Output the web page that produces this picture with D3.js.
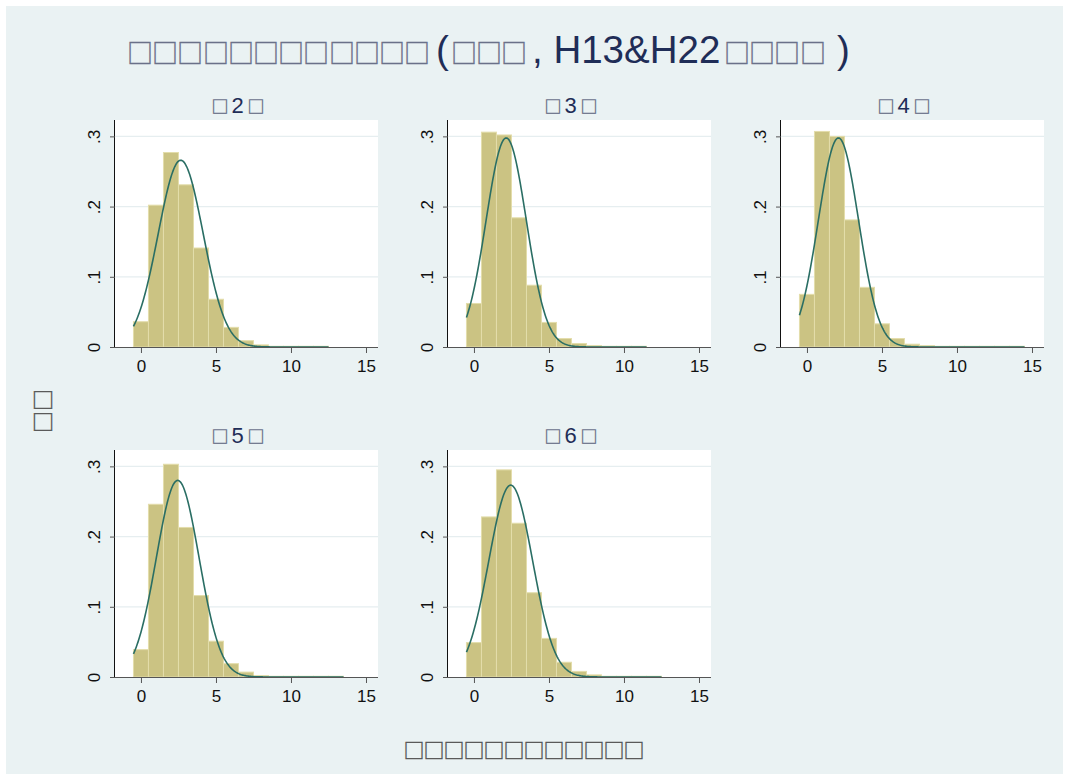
<!DOCTYPE html>
<html>
<head>
<meta charset="utf-8">
<script src="https://cdn.jsdelivr.net/npm/d3@7"></script>
<style>
  body { margin: 0; background: #ffffff; }
  svg text { font-family: "Liberation Sans", Arial, sans-serif; }
  .box { font-family: "Noto Sans CJK JP", sans-serif; }
</style>
</head>
<body>
<div id="chart"></div>
<script>
// panel labels (wave number), bin densities from 0 upward, normal fit
var waves = ["2", "3", "4", "5", "6"];
var dens2 = [0.036, 0.202, 0.277, 0.231, 0.141, 0.068, 0.028, 0.009, 0.003, 0.001, 0.001, 0.001, 0.001];
var dens3 = [0.062, 0.306, 0.302, 0.184, 0.088, 0.035, 0.012, 0.005, 0.002, 0.001, 0.001, 0.001];
var dens4 = [0.075, 0.307, 0.300, 0.181, 0.085, 0.033, 0.012, 0.004, 0.002, 0.001, 0.001, 0.001, 0.001, 0.001, 0.001];
var dens5 = [0.039, 0.246, 0.303, 0.213, 0.116, 0.051, 0.019, 0.007, 0.002, 0.001, 0.001, 0.001, 0.001, 0.001];
var dens6 = [0.049, 0.228, 0.295, 0.219, 0.120, 0.055, 0.021, 0.008, 0.003, 0.001, 0.001, 0.001, 0.001];
var fitMean = [2.65, 2.15, 2.10, 2.45, 2.45];
var fitSd = [1.50, 1.34, 1.34, 1.425, 1.46];
var xTicks = [0, 5, 10, 15];
var yTicks = [0, 0.1, 0.2, 0.3];

// the source text was drawn without its CJK font, so those glyphs show as empty boxes
var tofu = "\u25A1";

var allDens = [dens2, dens3, dens4, dens5, dens6];

var W = 1069, H = 780;
var svg = d3.select("#chart").append("svg")
  .attr("width", W)
  .attr("height", H);

svg.append("rect")
  .attr("x", 6).attr("y", 6)
  .attr("width", W - 12).attr("height", H - 12)
  .attr("fill", "#eaf2f3");

// a run of n boxes, first centre at cx (stroked so they render as plain grey outlines)
function boxes(parent, cx, baseY, n, pitch, size, color) {
  for (var k = 0; k < n; k++) {
    parent.append("text")
      .attr("class", "box")
      .attr("text-anchor", "middle")
      .attr("font-size", size)
      .attr("fill", color)
      .attr("stroke", color)
      .attr("stroke-width", 0.4)
      .attr("x", Math.round(cx + k * pitch))
      .attr("y", baseY)
      .text(tofu);
  }
}

function latin(parent, x0, baseY, size, color, str) {
  return parent.append("text")
    .attr("x", x0).attr("y", baseY)
    .attr("font-size", size)
    .attr("fill", color)
    .text(str);
}

// title
var navy = "#1f2d57", boxNavy = "#6a7189";
boxes(svg, 140, 63, 12, 25.2, 26, boxNavy);
latin(svg, 436, 63, 38.5, navy, "(");
boxes(svg, 464, 63, 3, 25.2, 26, boxNavy);
latin(svg, 532, 63, 38.5, navy, ", H13&H22");
boxes(svg, 737, 63, 4, 25.2, 26, boxNavy);
latin(svg, 837, 63, 38.5, navy, ")");

var pw = 263, ph = 227;
var lefts = [115, 448, 781];
var tops = [120, 450];

var x = d3.scaleLinear().domain([-1.73, 15.8]).range([0, pw]);
var y = d3.scaleLinear().domain([0, 0.3233]).range([ph, 0]);

function normal(v, m, s) {
  return Math.exp(-0.5 * Math.pow((v - m) / s, 2)) / (s * Math.sqrt(2 * Math.PI));
}

allDens.forEach(function(dens, i) {
  var g = svg.append("g")
    .attr("transform", "translate(" + lefts[i % 3] + "," + tops[Math.floor(i / 3)] + ")");

  g.append("rect")
    .attr("width", pw).attr("height", ph)
    .attr("fill", "#ffffff");

  // grid
  g.selectAll(".grid")
    .data(yTicks.slice(1))
    .enter().append("line")
    .attr("x1", 0).attr("x2", pw)
    .attr("y1", function(d) { return y(d); })
    .attr("y2", function(d) { return y(d); })
    .attr("stroke", "#e6eef0")
    .attr("stroke-width", 1.2);

  // bars
  g.selectAll(".bar")
    .data(dens)
    .enter().append("rect")
    .attr("x", function(d, k) { return x(k - 0.5); })
    .attr("width", x(1) - x(0))
    .attr("y", function(d) { return y(d); })
    .attr("height", function(d) { return ph - y(d); })
    .attr("fill", "#cbc383")
    .attr("stroke", "#e3ddab")
    .attr("stroke-width", 1);

  // normal curve
  var xs = d3.range(-0.5, dens.length - 0.5 + 0.001, 0.05);
  var line = d3.line()
    .x(function(d) { return x(d); })
    .y(function(d) { return y(normal(d, fitMean[i], fitSd[i])); });
  g.append("path")
    .datum(xs)
    .attr("d", line)
    .attr("fill", "none")
    .attr("stroke", "#2a6e64")
    .attr("stroke-width", 1.6);

  // x axis
  var xa = g.append("g")
    .attr("transform", "translate(0," + ph + ")")
    .call(d3.axisBottom(x).tickValues(xTicks).tickSize(6).tickPadding(7).tickSizeOuter(0));
  xa.select(".domain").attr("stroke", "#555555").attr("d", "M0,0.5H" + pw);
  xa.selectAll(".tick line").attr("stroke", "#555555");
  xa.selectAll("text").attr("font-size", 17).attr("fill", "#111111")
    .attr("font-family", "Liberation Sans, Arial, sans-serif");

  // y axis
  var ya = g.append("g")
    .call(d3.axisLeft(y).tickValues(yTicks).tickSize(5).tickSizeOuter(0)
      .tickFormat(function(d) { return d === 0 ? "0" : d3.format(".1f")(d).replace(/^0/, ""); }));
  ya.select(".domain").attr("stroke", "#111111").attr("d", "M-0.5,0V" + ph);
  ya.selectAll(".tick line").attr("stroke", "#555555");
  ya.selectAll("text")
    .attr("font-size", 17).attr("fill", "#111111")
    .attr("font-family", "Liberation Sans, Arial, sans-serif")
    .attr("x", null).attr("dy", null)
    .attr("text-anchor", "middle")
    .attr("transform", "translate(-15,0) rotate(-90)");

  // panel label
  boxes(g, 104.5, -7, 1, 0, 17, boxNavy);
  g.append("text")
    .attr("x", 122.5).attr("y", -7)
    .attr("text-anchor", "middle")
    .attr("font-size", 22)
    .attr("fill", navy)
    .text(waves[i]);
  boxes(g, 140.5, -7, 1, 0, 17, boxNavy);
});

// axis titles
var yt = svg.append("g").attr("transform", "translate(51,411) rotate(-90)");
boxes(yt, -11, 0, 2, 22, 22, "#555555");

boxes(svg, 414, 758, 12, 20, 21, "#555555");
</script>
</body>
</html>
